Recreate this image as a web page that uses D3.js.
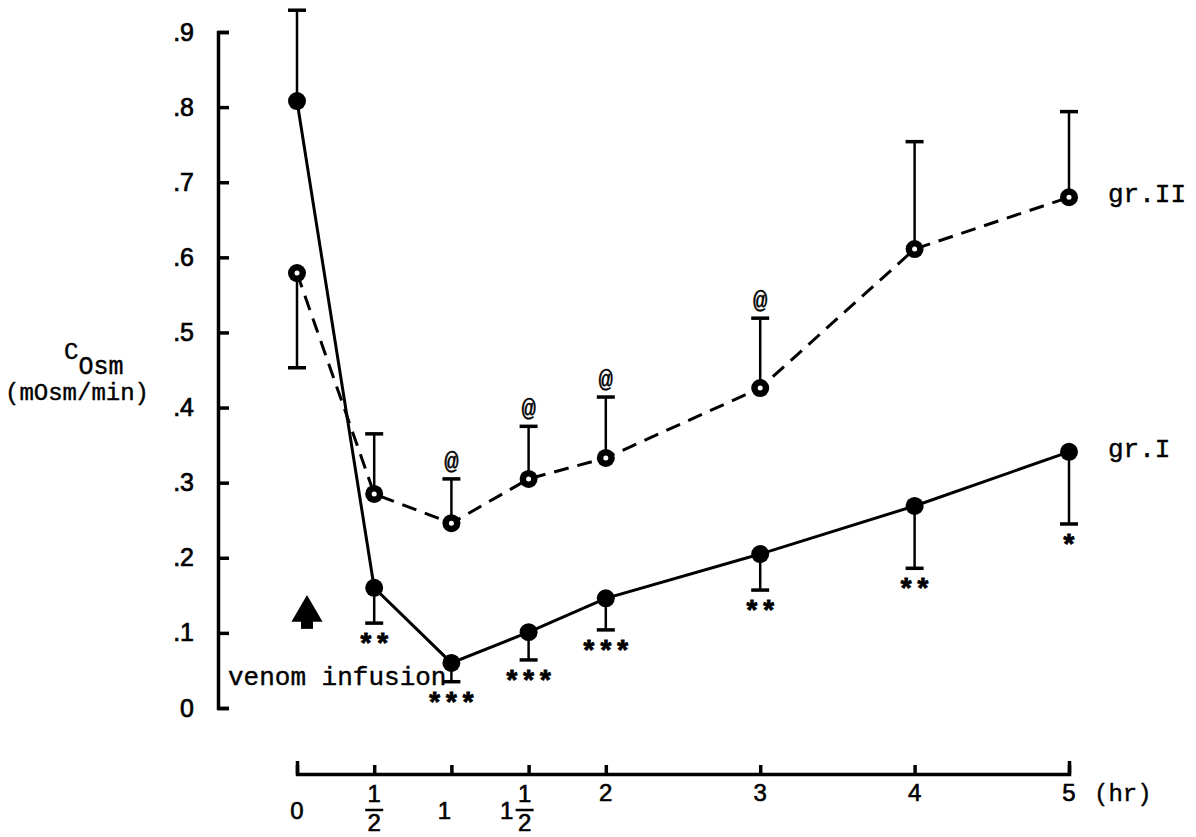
<!doctype html>
<html lang="en">
<head>
  <meta charset="UTF-8">
  <title>C Osm after venom infusion</title>
  <script src="https://d3js.org/d3.v7.min.js"></script>
  <style>
    body { margin: 0; background: #fff; }
  </style>
</head>
<body>
<div id="myDiv"></div>

<script type="text/javascript">
  // values (time in hr, C Osm in mOsm/min)
  const times = [0, 0.5, 1, 1.5, 2, 3, 4, 5];
  const grI = [0.808, 0.160, 0.060, 0.101, 0.146, 0.205, 0.269, 0.341];
  const grIErrEnd = [0.929, 0.113, 0.035, 0.064, 0.104, 0.157, 0.186, 0.245];
  const grII = [0.579, 0.285, 0.246, 0.305, 0.333, 0.426, 0.611, 0.680];
  const grIIErrEnd = [0.453, 0.365, 0.305, 0.375, 0.414, 0.519, 0.754, 0.794];
  const grISig = ["", "**", "***", "***", "***", "**", "**", "*"];
  const grIISig = ["", "", "@", "@", "@", "@", "", ""];

  const yTicks = [0, 0.1, 0.2, 0.3, 0.4, 0.5, 0.6, 0.7, 0.8, 0.9];
  const yTickLabels = ["0", ".1", ".2", ".3", ".4", ".5", ".6", ".7", ".8", ".9"];
  const xTicks = [0, 0.5, 1, 1.5, 2, 3, 4, 5];
  const xTickLabels = ["0", "1/2", "1", "1 1/2", "2", "3", "4", "5"];

  const sans = "'Liberation Sans', Arial, sans-serif";
  const mono = "'Liberation Mono', 'Courier New', monospace";

  let svg = d3.select("#myDiv").append("svg")
      .attr("width", 1196)
      .attr("height", 837);
  svg.append("rect").attr("width", 1196).attr("height", 837).attr("fill", "#fff");

  let x = d3.scaleLinear().domain([0, 5]).range([297, 1069]);
  let y = d3.scaleLinear().domain([0, 0.9]).range([708, 32]);

  // y axis: ticks point right, labels on the left
  let yAxis = svg.append("g")
      .attr("transform", "translate(218,0)")
      .call(d3.axisLeft(y)
        .tickValues(yTicks)
        .tickSizeInner(-11)
        .tickSizeOuter(-11)
        .tickPadding(24)
        .tickFormat((d, i) => yTickLabels[i]));
  yAxis.selectAll("path, line").attr("stroke", "#000").attr("stroke-width", 3.5);
  yAxis.selectAll("text")
      .attr("font-family", sans)
      .attr("font-size", "25px")
      .attr("fill", "#000")
      .attr("stroke", "#000")
      .attr("stroke-width", 0.7);

  // x axis: separate line below the plot, ticks pointing up
  let xAxis = svg.append("g")
      .attr("transform", "translate(0,774)")
      .call(d3.axisBottom(x)
        .tickValues(xTicks)
        .tickSizeInner(-9)
        .tickSizeOuter(-13)
        .tickFormat(""));
  xAxis.selectAll("path, line").attr("stroke", "#000").attr("stroke-width", 3.5);

  // x tick labels, with stacked fractions
  let xLab = svg.append("g")
      .attr("font-family", sans)
      .attr("font-size", "24px")
      .attr("fill", "#000")
      .attr("stroke", "#000")
      .attr("stroke-width", 0.6)
      .attr("text-anchor", "middle");

  function drawFrac(g, cx, num, den) {
    g.append("text").attr("x", cx).attr("y", 802).text(num);
    g.append("line")
        .attr("x1", cx - 9).attr("x2", cx + 9)
        .attr("y1", 810).attr("y2", 810)
        .attr("stroke-width", 2.5);
    g.append("text").attr("x", cx).attr("y", 831).text(den);
  }

  xTicks.forEach(function(t, i) {
    let lab = xTickLabels[i];
    let cx = x(t);
    let base = t <= 1.5 ? 819 : 801;
    if (lab.indexOf("/") < 0) {
      xLab.append("text")
          .attr("x", lab === "1" ? cx - 7 : cx)
          .attr("y", base)
          .text(lab);
    } else {
      let parts = lab.split(" ");
      let frac = parts[parts.length - 1].split("/");
      if (parts.length > 1) {
        xLab.append("text").attr("x", cx - 22).attr("y", base).text(parts[0]);
        drawFrac(xLab, cx - 4, frac[0], frac[1]);
      } else {
        drawFrac(xLab, cx, frac[0], frac[1]);
      }
    }
  });

  svg.append("text")
      .attr("x", x(5) + 25)
      .attr("y", 801)
      .attr("font-family", mono)
      .attr("font-size", "24px")
      .attr("fill", "#000")
      .attr("stroke", "#000")
      .attr("stroke-width", 0.4)
      .text("(hr)");

  // y axis title
  let yTitle = svg.append("text")
      .attr("font-family", mono)
      .attr("fill", "#000")
      .attr("stroke", "#000")
      .attr("stroke-width", 0.4);
  yTitle.append("tspan").attr("x", 64).attr("y", 359).attr("font-size", "24px").text("C");
  yTitle.append("tspan").attr("y", 374).attr("font-size", "25px").text("Osm");
  svg.append("text")
      .attr("x", 5)
      .attr("y", 400)
      .attr("font-family", mono)
      .attr("font-size", "24px")
      .attr("fill", "#000")
      .attr("stroke", "#000")
      .attr("stroke-width", 0.4)
      .text("(mOsm/min)");

  let pts1 = times.map((t, i) => [x(t), y(grI[i])]);
  let pts2 = times.map((t, i) => [x(t), y(grII[i])]);

  // lines
  svg.append("path")
      .attr("d", d3.line()(pts1))
      .attr("fill", "none")
      .attr("stroke", "#000")
      .attr("stroke-width", 3);
  svg.append("path")
      .attr("d", d3.line()(pts2))
      .attr("fill", "none")
      .attr("stroke", "#000")
      .attr("stroke-width", 3)
      .attr("stroke-dasharray", "15,9");

  // error bars
  function errBars(vals, ends) {
    let g = svg.append("g").attr("stroke", "#000");
    times.forEach(function(t, i) {
      g.append("line")
          .attr("x1", x(t)).attr("x2", x(t))
          .attr("y1", y(vals[i])).attr("y2", y(ends[i]))
          .attr("stroke-width", 2.5);
      g.append("line")
          .attr("x1", x(t) - 9).attr("x2", x(t) + 9)
          .attr("y1", y(ends[i])).attr("y2", y(ends[i]))
          .attr("stroke-width", 3.5);
    });
  }
  errBars(grI, grIErrEnd);
  errBars(grII, grIIErrEnd);

  // markers
  svg.selectAll(".dot1")
      .data(pts1)
      .enter()
      .append("circle")
          .attr("cx", d => d[0])
          .attr("cy", d => d[1])
          .attr("r", 9)
          .attr("fill", "#000");
  svg.selectAll(".dot2")
      .data(pts2)
      .enter()
      .append("circle")
          .attr("cx", d => d[0])
          .attr("cy", d => d[1])
          .attr("r", 9)
          .attr("fill", "#000");
  svg.selectAll(".dot2c")
      .data(pts2)
      .enter()
      .append("circle")
          .attr("cx", d => d[0])
          .attr("cy", d => d[1])
          .attr("r", 2.5)
          .attr("fill", "#fff");

  // significance marks
  svg.selectAll(".sig1")
      .data(times)
      .enter()
      .append("text")
          .attr("x", d => x(d))
          .attr("y", (d, i) => y(grIErrEnd[i]) + 30)
          .attr("text-anchor", "middle")
          .attr("font-family", mono)
          .attr("font-weight", "bold")
          .attr("font-size", "28px")
          .attr("fill", "#000")
          .attr("stroke", "#000")
          .attr("stroke-width", 0.8)
          .text((d, i) => grISig[i]);
  svg.selectAll(".sig2")
      .data(times)
      .enter()
      .append("text")
          .attr("x", d => x(d))
          .attr("y", (d, i) => y(grIIErrEnd[i]) - 10)
          .attr("text-anchor", "middle")
          .attr("font-family", mono)
          .attr("font-size", "24px")
          .attr("fill", "#000")
          .attr("stroke", "#000")
          .attr("stroke-width", 0.4)
          .text((d, i) => grIISig[i]);

  // group labels
  svg.append("text")
      .attr("x", x(5) + 39)
      .attr("y", y(grII[7]) + 5)
      .attr("font-family", mono)
      .attr("font-size", "26px")
      .attr("fill", "#000")
      .attr("stroke", "#000")
      .attr("stroke-width", 0.4)
      .text("gr.II");
  svg.append("text")
      .attr("x", x(5) + 39)
      .attr("y", y(grI[7]) + 5)
      .attr("font-family", mono)
      .attr("font-size", "26px")
      .attr("fill", "#000")
      .attr("stroke", "#000")
      .attr("stroke-width", 0.4)
      .text("gr.I");

  // venom infusion arrow
  let ax = x(0) + 10;
  let ay = y(0.12);
  svg.append("path")
      .attr("d", d3.symbol().type(d3.symbolTriangle).size(420)())
      .attr("transform", "translate(" + ax + "," + (ay - 5) + ")")
      .attr("fill", "#000");
  svg.append("rect")
      .attr("x", ax - 6)
      .attr("y", ay)
      .attr("width", 12)
      .attr("height", 11)
      .attr("fill", "#000");
  svg.append("text")
      .attr("x", 228)
      .attr("y", 685)
      .attr("font-family", mono)
      .attr("font-size", "26px")
      .attr("fill", "#000")
      .attr("stroke", "#000")
      .attr("stroke-width", 0.4)
      .text("venom infusion");
</script>
</body>
</html>
